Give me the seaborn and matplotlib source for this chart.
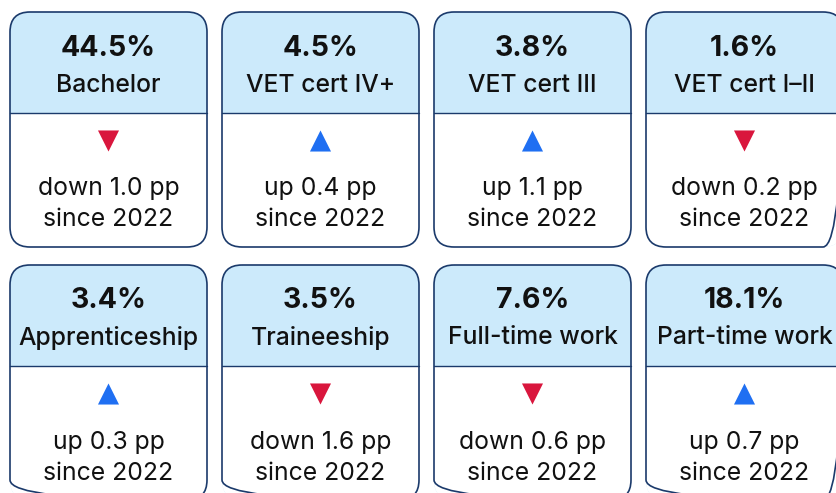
import matplotlib
matplotlib.use("Agg")
import matplotlib.pyplot as plt
from matplotlib.patches import FancyBboxPatch, Rectangle
import seaborn as sns
import pandas as pd

# ---- data ----
categories = ["Bachelor", "VET cert IV+", "VET cert III", "VET cert I\u2013II",
              "Apprenticeship", "Traineeship", "Full-time work", "Part-time work"]
shares = [44.5, 4.5, 3.8, 1.6, 3.4, 3.5, 7.6, 18.1]
changes = [-1.0, 0.4, 1.1, -0.2, 0.3, -1.6, -0.6, 0.7]
base_year = "2022"

# ---- style ----
sns.set_theme(style="white")
plt.rcParams["font.family"] = ["Inter", "DejaVu Sans"]

W, H = 836, 493
fig = plt.figure(figsize=(W / 100, H / 100), dpi=100)
ax = fig.add_axes([0, 0, 1, 1])

border = "#1B3A6B"
head_fill = "#CCEAFB"
up_col = "#1F6FF2"
down_col = "#D9163D"
txt = "#111111"

x_start, x_pitch, card_w = 10, 212, 197
y_start, y_pitch, card_h = 12, 253, 235
head_h = 101
ncols = 4

rows = []
for i, (cat, sh, ch) in enumerate(zip(categories, shares, changes)):
    r, c = divmod(i, ncols)
    x0 = x_start + c * x_pitch
    y0 = y_start + r * y_pitch
    cx = x0 + card_w / 2
    card = FancyBboxPatch((x0, y0), card_w, card_h,
                          boxstyle="round,pad=0,rounding_size=20",
                          facecolor=head_fill, edgecolor="none", zorder=1)
    ax.add_patch(card)
    body = Rectangle((x0, y0 + head_h), card_w, card_h - head_h,
                     facecolor="white", edgecolor="none", zorder=2)
    ax.add_patch(body)
    body.set_clip_path(card)
    outline = FancyBboxPatch((x0, y0), card_w, card_h,
                             boxstyle="round,pad=0,rounding_size=20",
                             facecolor="none", edgecolor=border, lw=1.2, zorder=4)
    ax.add_patch(outline)
    ax.plot([x0, x0 + card_w], [y0 + head_h, y0 + head_h], color=border, lw=1.0, zorder=3)

    ax.text(cx, y0 + 36, f"{sh:.1f}%", ha="center", va="center",
            fontsize=20.5, fontweight="bold", color=txt, zorder=5)
    ax.text(cx, y0 + 73, cat, ha="center", va="center",
            fontsize=17.8, fontweight="medium", color=txt, zorder=5)
    word = "up" if ch > 0 else "down"
    ax.text(cx, y0 + 177, f"{word} {abs(ch):.1f} pp", ha="center", va="center",
            fontsize=17.8, color=txt, zorder=5)
    ax.text(cx, y0 + 208, f"since {base_year}", ha="center", va="center",
            fontsize=17.8, color=txt, zorder=5)
    rows.append({"x": cx, "y": y0 + 129, "dir": word})

df = pd.DataFrame(rows)
sns.scatterplot(data=df, x="x", y="y", hue="dir", style="dir",
                markers={"up": "^", "down": "v"},
                palette={"up": up_col, "down": down_col},
                s=230, linewidth=0, legend=False, ax=ax, zorder=6)
ax.set_xlim(0, W)
ax.set_ylim(H, 0)
ax.axis("off")

fig.savefig("out.png", dpi=100, facecolor="white")
